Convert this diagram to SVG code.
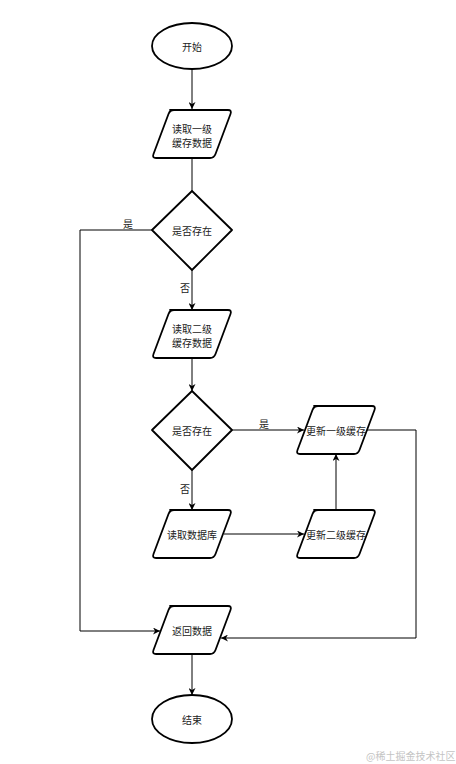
<svg xmlns="http://www.w3.org/2000/svg" width="456" height="764" viewBox="0 0 456 764">
<style>
.shape{fill:#fff;stroke:#000;stroke-width:1.8;stroke-linejoin:round}
.conn{fill:none;stroke:#000;stroke-width:1}
text{font-family:"Noto Sans CJK SC","Liberation Sans",sans-serif;font-size:10px;fill:#222;text-anchor:middle;dominant-baseline:central}
.wm{fill:#c4c4c4;font-size:10px;text-anchor:start}
</style>
<defs>
<marker id="ah" viewBox="0 0 10 10" refX="10" refY="5" markerWidth="7" markerHeight="7" orient="auto" markerUnits="userSpaceOnUse">
<path d="M0,0 L10,5 L0,10 L3,5 Z" fill="#000"/>
</marker>
<path id="para" d="M-22,-24 H36 Q40,-24 38.5,-20 L23.5,20 Q22,24 18,24 H-36 Q-40,24 -38.5,20 L-23.5,-20 Q-22,-24 -18,-24 Z"/>
</defs>
<rect width="456" height="764" fill="#fff"/>
<g id="connectors">
<line class="conn" x1="192" y1="69" x2="192" y2="109" marker-end="url(#ah)"/>
<line class="conn" x1="192" y1="158" x2="192" y2="191"/>
<line class="conn" x1="192" y1="270" x2="192" y2="310" marker-end="url(#ah)"/>
<polyline class="conn" points="152,230 80,230 80,631 160,631" marker-end="url(#ah)"/>
<line class="conn" x1="192" y1="358" x2="192" y2="391" marker-end="url(#ah)"/>
<line class="conn" x1="232" y1="430" x2="304" y2="430" marker-end="url(#ah)"/>
<line class="conn" x1="192" y1="470" x2="192" y2="510" marker-end="url(#ah)"/>
<line class="conn" x1="224" y1="534" x2="304" y2="534" marker-end="url(#ah)"/>
<line class="conn" x1="336" y1="510" x2="336" y2="454" marker-end="url(#ah)"/>
<polyline class="conn" points="367,430 416,430 416,638 221,638" marker-end="url(#ah)"/>
<line class="conn" x1="192" y1="654" x2="192" y2="695" marker-end="url(#ah)"/>
<text x="128" y="223">是</text>
<text x="185" y="287">否</text>
<text x="264" y="423">是</text>
<text x="185" y="488">否</text>
</g>
<g id="start">
<ellipse class="shape" cx="192" cy="46" rx="40" ry="23"/>
<text x="192" y="46">开始</text>
</g>
<g id="read1">
<use href="#para" class="shape" x="192" y="134"/>
<text x="192" y="128">读取一级</text>
<text x="192" y="142">缓存数据</text>
</g>
<g id="decide1">
<polygon class="shape" points="192,191 232,230 192,270 152,230"/>
<text x="192" y="230">是否存在</text>
</g>
<g id="read2">
<use href="#para" class="shape" x="192" y="334"/>
<text x="192" y="328">读取二级</text>
<text x="192" y="342">缓存数据</text>
</g>
<g id="decide2">
<polygon class="shape" points="192,391 232,430 192,470 152,430"/>
<text x="192" y="430">是否存在</text>
</g>
<g id="update1">
<use href="#para" class="shape" x="336" y="430"/>
<text x="336" y="430">更新一级缓存</text>
</g>
<g id="readdb">
<use href="#para" class="shape" x="192" y="534"/>
<text x="192" y="534">读取数据库</text>
</g>
<g id="update2">
<use href="#para" class="shape" x="336" y="534"/>
<text x="336" y="534">更新二级缓存</text>
</g>
<g id="return">
<use href="#para" class="shape" x="192" y="630"/>
<text x="192" y="630">返回数据</text>
</g>
<g id="end">
<ellipse class="shape" cx="192" cy="719" rx="40" ry="24"/>
<text x="192" y="719">结束</text>
</g>
<text class="wm" x="366" y="755">@稀土掘金技术社区</text>
</svg>
